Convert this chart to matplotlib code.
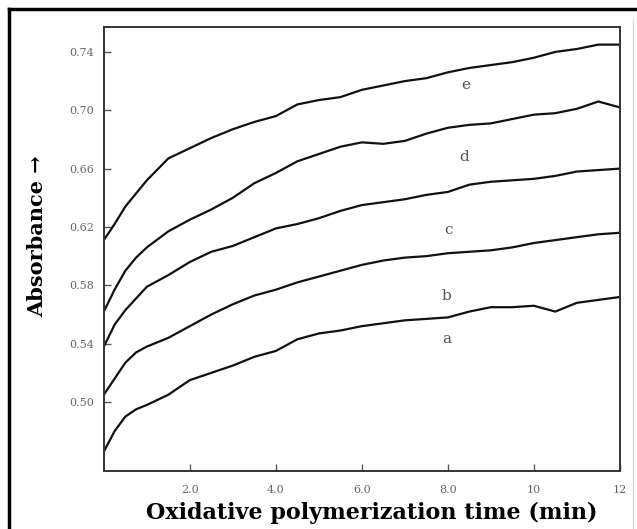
import numpy as np
import matplotlib
matplotlib.use("Agg")
import matplotlib.pyplot as plt
from matplotlib.lines import Line2D

# Absorbance traces during oxidative polymerization (samples a-e)
time_min = [0, 0.25, 0.5, 0.75, 1.0, 1.5, 2.0, 2.5, 3.0, 3.5, 4.0, 4.5, 5.0, 5.5,
            6.0, 6.5, 7.0, 7.5, 8.0, 8.5, 9.0, 9.5, 10.0, 10.5, 11.0, 11.5, 12.0]

abs_a = [0.466, 0.480, 0.490, 0.495, 0.498, 0.505, 0.515, 0.520, 0.525, 0.531, 0.535,
         0.543, 0.547, 0.549, 0.552, 0.554, 0.556, 0.557, 0.558, 0.562, 0.565, 0.565,
         0.566, 0.562, 0.568, 0.570, 0.572]
abs_b = [0.505, 0.516, 0.527, 0.534, 0.538, 0.544, 0.552, 0.560, 0.567, 0.573, 0.577,
         0.582, 0.586, 0.590, 0.594, 0.597, 0.599, 0.600, 0.602, 0.603, 0.604, 0.606,
         0.609, 0.611, 0.613, 0.615, 0.616]
abs_c = [0.538, 0.553, 0.563, 0.571, 0.579, 0.587, 0.596, 0.603, 0.607, 0.613, 0.619,
         0.622, 0.626, 0.631, 0.635, 0.637, 0.639, 0.642, 0.644, 0.649, 0.651, 0.652,
         0.653, 0.655, 0.658, 0.659, 0.660]
abs_d = [0.562, 0.577, 0.590, 0.599, 0.606, 0.617, 0.625, 0.632, 0.640, 0.650, 0.657,
         0.665, 0.670, 0.675, 0.678, 0.677, 0.679, 0.684, 0.688, 0.690, 0.691, 0.694,
         0.697, 0.698, 0.701, 0.706, 0.702]
abs_e = [0.611, 0.622, 0.634, 0.643, 0.652, 0.667, 0.674, 0.681, 0.687, 0.692, 0.696,
         0.704, 0.707, 0.709, 0.714, 0.717, 0.720, 0.722, 0.726, 0.729, 0.731, 0.733,
         0.736, 0.740, 0.742, 0.745, 0.745]

curve_names = ["a", "b", "c", "d", "e"]
label_pos = [(7.97, 0.543), (7.97, 0.5726), (8.02, 0.618), (8.37, 0.668), (8.42, 0.7174)]

x_ticks = [2, 4, 6, 8, 10, 12]
x_tick_labels = ["2.0", "4.0", "6.0", "8.0", "10", "12"]
y_ticks = [0.50, 0.54, 0.58, 0.62, 0.66, 0.70, 0.74]
y_tick_labels = ["0.50", "0.54", "0.58", "0.62", "0.66", "0.70", "0.74"]

fig = plt.figure(figsize=(6.37, 5.29), dpi=100)
ax = fig.add_axes([0.163, 0.1096, 0.81, 0.8394])

for vals in [abs_a, abs_b, abs_c, abs_d, abs_e]:
    ax.plot(time_min, vals, color="#111111", lw=1.6)

for name, (tx, ty) in zip(curve_names, label_pos):
    ax.text(tx, ty, name, fontsize=11, color="#555555", family="DejaVu Serif",
            ha="center", va="center")

ax.set_xlim(0, 12)
ax.set_ylim(0.4527, 0.7571)
ax.set_xticks(x_ticks)
ax.set_xticklabels(x_tick_labels)
ax.set_yticks(y_ticks)
ax.set_yticklabels(y_tick_labels)
ax.tick_params(direction="in", length=5, width=1, color="#555555",
               labelsize=8, labelcolor="#666666")
ax.tick_params(axis="y", pad=7)
ax.tick_params(axis="x", pad=10)
for lab in ax.get_xticklabels() + ax.get_yticklabels():
    lab.set_family("DejaVu Serif")
for sp in ax.spines.values():
    sp.set_color("#333333")
    sp.set_linewidth(1.4)

ax.set_xlabel("Oxidative polymerization time (min)", fontsize=16, fontweight="bold",
              family="DejaVu Serif", labelpad=6)
ax.xaxis.set_label_coords(0.52, -0.07)
ax.set_ylabel("Absorbance \u2192", fontsize=15, fontweight="bold",
              family="DejaVu Serif")
ax.yaxis.set_label_coords(-0.11, 0.53)

# outer frame: heavy black on top/left, faint pink rule on the right
fig.add_artist(Line2D([0.014, 1.0], [0.983, 0.983], color="black", lw=2.5,
                      transform=fig.transFigure))
fig.add_artist(Line2D([0.014, 0.014], [0.0, 0.983], color="black", lw=2.5,
                      transform=fig.transFigure))
fig.add_artist(Line2D([0.993, 0.993], [0.0, 0.965], color="#f2c8c8", lw=0.8,
                      transform=fig.transFigure))

fig.savefig("out.png", dpi=100)
